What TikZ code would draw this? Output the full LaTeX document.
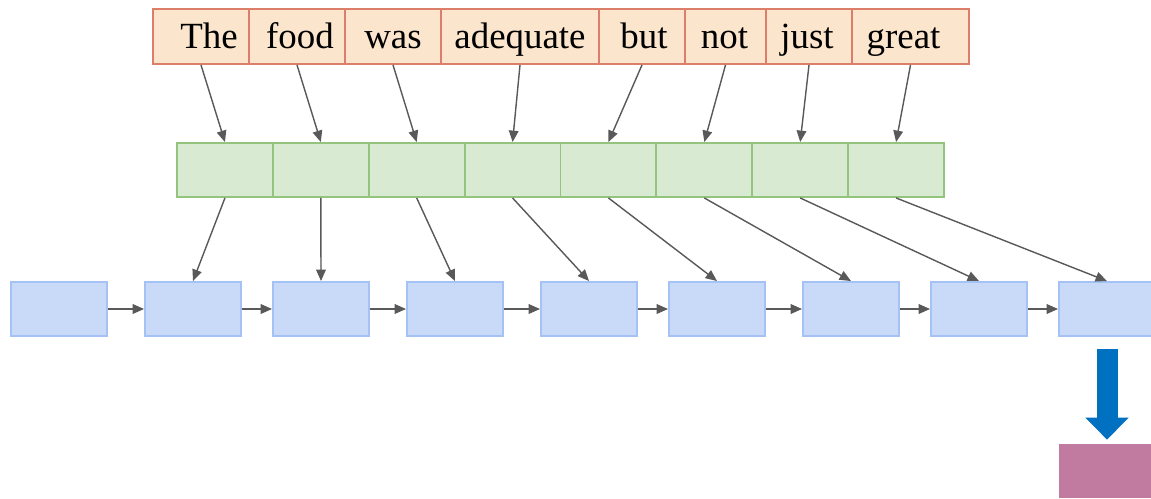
\documentclass[tikz,border=0pt]{standalone}
\usepackage{fontspec}
\setmainfont{Liberation Serif}
\usetikzlibrary{arrows.meta,positioning}

\definecolor{wordfill}{HTML}{FCE5CD}
\definecolor{worddraw}{HTML}{DD7E6B}
\definecolor{embfill}{HTML}{D9EAD3}
\definecolor{embdraw}{HTML}{93C47D}
\definecolor{rnnfill}{HTML}{C9DAF8}
\definecolor{rnndraw}{HTML}{A4C2F4}
\definecolor{outfill}{HTML}{C27BA0}
\definecolor{bigarrow}{HTML}{0070C0}
\definecolor{arrowgray}{HTML}{595959}

\begin{document}
\begin{tikzpicture}[
    x=0.02cm, y=-0.02cm,
    wordbox/.style={rectangle, draw=worddraw, fill=wordfill, line width=1.1pt, minimum height=1.1cm, inner sep=0pt, text height=15pt, text depth=1pt, font=\fontsize{21}{24}\selectfont},
    embbox/.style={rectangle, draw=embdraw, fill=embfill, line width=1.1pt, minimum width=1.918cm, minimum height=1.08cm},
    rnnbox/.style={rectangle, draw=rnndraw, fill=rnnfill, line width=1.1pt, minimum width=1.92cm, minimum height=1.08cm},
    outbox/.style={rectangle, fill=outfill, minimum width=1.92cm, minimum height=1.08cm},
    arrow/.style={-{Triangle[length=6.5pt,width=5.5pt]}, line width=0.8pt, draw=arrowgray, fill=arrowgray}
]
\useasboundingbox (0,0) rectangle (1151,499);

% input words (box width and text shift in px)
\foreach \word/\cx/\boxw/\off [count=\i] in {The/201/96/8, food/297/96/3, was/393/96/0, adequate/520/158/0, but/642/86/2, not/725.5/81/-1, just/809/86/-2, great/910.5/117/-7}
    \node[wordbox, minimum width=\boxw*0.02cm] (w\i) at (\cx,36.5) {\hspace*{\off\dimexpr0.02cm\relax}\word\hspace*{-\off\dimexpr0.02cm\relax}};

% embedding layer
\foreach \i in {1,...,8}
    \node[embbox] (e\i) at ({177+95.875*(\i-0.5)},170) {};

% recurrent cells
\foreach \lx [count=\i] in {11,145,273,407,541,669,803,931,1059}
    \node[rnnbox] (h\i) at (\lx+48,309) {};

% output
\node[outbox] (out) at (1107,471) {};

% words -> embeddings -> cells
\foreach \i in {1,...,8} {
    \pgfmathtruncatemacro{\j}{\i+1}
    \draw[arrow] (w\i.south) -- (e\i.north);
    \draw[arrow] (e\i.south) -- (h\j.north);
    \draw[arrow] (h\i.east) -- (h\j.west);
}

% final state to output
\draw[-{Triangle[length=0.44cm,width=0.84cm]}, line width=0.42cm, draw=bigarrow, fill=bigarrow, shorten <=0.24cm, shorten >=0.08cm] (h9.south) -- (out.north);

\end{tikzpicture}
\end{document}
